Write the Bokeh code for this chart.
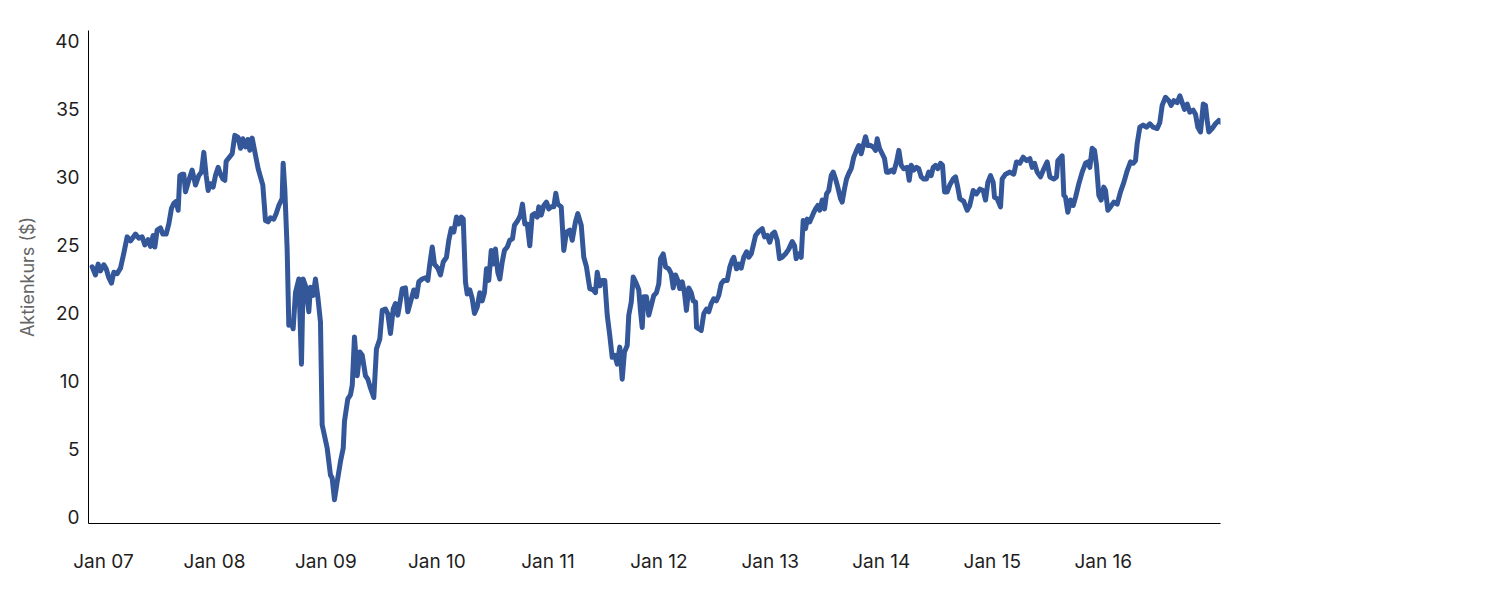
import numpy as np
from datetime import datetime, timedelta
from bokeh.plotting import figure
from bokeh.models import Range1d, FixedTicker, DatetimeTickFormatter, ColumnDataSource
from bokeh.embed import file_html
from bokeh.resources import INLINE

# time in years since 1 Jan 2007
jahre_seit_2007 = [
    -0.102, -0.072, -0.048, -0.027, 0.003, 0.024, 0.048, 0.072, 0.093, 0.123,
    0.153, 0.183, 0.213, 0.243, 0.288, 0.318, 0.348, 0.372, 0.402, 0.423,
    0.447, 0.462, 0.483, 0.513, 0.534, 0.564, 0.588, 0.612, 0.633, 0.654,
    0.672, 0.687, 0.708, 0.723, 0.738, 0.768, 0.798, 0.828, 0.858, 0.882,
    0.903, 0.924, 0.942, 0.963, 0.987, 1.008, 1.032, 1.053, 1.074, 1.092,
    1.104, 1.134, 1.158, 1.182, 1.212, 1.233, 1.254, 1.278, 1.299, 1.317,
    1.338, 1.368, 1.392, 1.413, 1.434, 1.458, 1.482, 1.503, 1.533, 1.554,
    1.578, 1.608, 1.617, 1.632, 1.653, 1.668, 1.689, 1.707, 1.728, 1.758,
    1.782, 1.797, 1.818, 1.848, 1.863, 1.887, 1.908, 1.929, 1.953, 1.968,
    2.013, 2.043, 2.058, 2.079, 2.104, 2.133, 2.158, 2.169, 2.199, 2.223,
    2.239, 2.259, 2.284, 2.307, 2.329, 2.358, 2.379, 2.403, 2.433, 2.457,
    2.487, 2.509, 2.538, 2.559, 2.583, 2.608, 2.628, 2.649, 2.667, 2.689,
    2.718, 2.739, 2.763, 2.793, 2.817, 2.838, 2.869, 2.898, 2.919, 2.937,
    2.959, 2.979, 3.009, 3.033, 3.058, 3.087, 3.108, 3.130, 3.153, 3.177,
    3.198, 3.220, 3.238, 3.258, 3.274, 3.297, 3.319, 3.339, 3.364, 3.387,
    3.409, 3.429, 3.447, 3.468, 3.490, 3.508, 3.528, 3.549, 3.567, 3.589,
    3.609, 3.634, 3.657, 3.681, 3.699, 3.729, 3.753, 3.771, 3.792, 3.814,
    3.837, 3.859, 3.879, 3.904, 3.918, 3.940, 3.963, 3.987, 4.008, 4.030,
    4.053, 4.071, 4.089, 4.120, 4.143, 4.167, 4.197, 4.219, 4.248, 4.269,
    4.300, 4.323, 4.347, 4.377, 4.408, 4.428, 4.444, 4.467, 4.489, 4.512,
    4.534, 4.557, 4.579, 4.602, 4.624, 4.647, 4.669, 4.689, 4.714, 4.728,
    4.750, 4.768, 4.797, 4.818, 4.833, 4.849, 4.863, 4.887, 4.908, 4.930,
    4.953, 4.977, 4.998, 5.014, 5.038, 5.059, 5.088, 5.110, 5.128, 5.149,
    5.169, 5.187, 5.209, 5.229, 5.247, 5.268, 5.290, 5.308, 5.329, 5.338,
    5.358, 5.380, 5.403, 5.428, 5.448, 5.470, 5.493, 5.517, 5.538, 5.560,
    5.583, 5.614, 5.638, 5.659, 5.673, 5.698, 5.718, 5.740, 5.763, 5.788,
    5.808, 5.830, 5.848, 5.869, 5.898, 5.929, 5.950, 5.974, 5.997, 6.019,
    6.040, 6.064, 6.085, 6.109, 6.139, 6.168, 6.199, 6.220, 6.235, 6.258,
    6.280, 6.298, 6.319, 6.334, 6.357, 6.388, 6.409, 6.429, 6.447, 6.469,
    6.490, 6.508, 6.528, 6.550, 6.568, 6.589, 6.609, 6.634, 6.649, 6.670,
    6.688, 6.708, 6.730, 6.753, 6.778, 6.798, 6.820, 6.838, 6.859, 6.879,
    6.904, 6.928, 6.949, 6.964, 6.985, 7.009, 7.030, 7.048, 7.068, 7.093,
    7.113, 7.138, 7.159, 7.180, 7.203, 7.234, 7.252, 7.270, 7.294, 7.318,
    7.338, 7.360, 7.383, 7.408, 7.428, 7.450, 7.468, 7.489, 7.509, 7.534,
    7.552, 7.570, 7.594, 7.617, 7.648, 7.669, 7.689, 7.708, 7.743, 7.774,
    7.797, 7.828, 7.858, 7.888, 7.918, 7.939, 7.960, 7.984, 8.008, 8.020,
    8.044, 8.074, 8.089, 8.119, 8.158, 8.193, 8.218, 8.248, 8.278, 8.308,
    8.338, 8.359, 8.380, 8.404, 8.434, 8.464, 8.494, 8.518, 8.554, 8.578,
    8.590, 8.629, 8.644, 8.659, 8.680, 8.704, 8.728, 8.749, 8.779, 8.809,
    8.839, 8.860, 8.878, 8.899, 8.920, 8.938, 8.959, 8.980, 9.003, 9.019,
    9.040, 9.064, 9.094, 9.124, 9.154, 9.184, 9.214, 9.244, 9.268, 9.289,
    9.304, 9.328, 9.358, 9.388, 9.418, 9.448, 9.484, 9.508, 9.529, 9.559,
    9.589, 9.610, 9.634, 9.664, 9.688, 9.709, 9.730, 9.754, 9.778, 9.808,
    9.829, 9.850, 9.874, 9.899, 9.919, 9.934, 9.949, 9.979, 10.009, 10.039,
    10.059,
]

kurs = [
    23.4, 22.8, 23.6, 23.1, 23.55, 23.25, 22.6, 22.2, 23.0, 22.9,
    23.3, 24.4, 25.6, 25.3, 25.8, 25.5, 25.6, 25.0, 25.4, 24.9,
    25.7, 24.85, 26.1, 26.25, 25.8, 25.8, 26.55, 27.7, 28.05, 28.2,
    27.55, 30.1, 30.2, 30.2, 28.9, 29.75, 30.5, 29.4, 30.1, 30.35,
    31.8, 30.1, 29.0, 29.5, 29.25, 30.1, 30.7, 30.2, 29.85, 29.75,
    31.15, 31.45, 31.7, 33.05, 32.9, 32.1, 32.8, 32.2, 32.75, 31.95,
    32.85, 31.6, 30.6, 30.0, 29.4, 26.8, 26.7, 27.0, 26.9, 27.3,
    27.9, 28.4, 31.0, 29.1, 24.7, 18.2, 18.7, 17.7, 21.5, 22.5,
    12.5, 22.5, 22.0, 20.1, 21.9, 21.3, 22.5, 21.2, 18.7, 6.8,
    5.1, 3.1, 2.9, 1.3, 2.65, 4.1, 5.1, 7.05, 8.7, 9.0,
    9.7, 16.5, 10.8, 14.3, 13.8, 10.8, 10.3, 9.5, 8.8, 14.75,
    16.2, 20.2, 20.3, 19.9, 17.0, 20.3, 20.7, 19.7, 20.7, 21.8,
    21.85, 20.1, 20.8, 21.7, 21.2, 22.3, 22.5, 22.6, 22.4, 23.6,
    24.85, 23.6, 23.3, 22.8, 23.75, 24.1, 25.35, 26.2, 25.95, 27.05,
    26.55, 27.05, 26.9, 22.3, 21.4, 21.7, 21.05, 19.95, 20.45, 21.5,
    20.9, 21.5, 23.25, 22.4, 24.6, 23.6, 24.7, 23.0, 22.5, 23.75,
    24.6, 24.85, 25.35, 25.45, 26.45, 26.8, 27.2, 28.0, 26.55, 26.55,
    24.95, 27.2, 27.3, 27.05, 27.8, 27.2, 27.9, 28.15, 27.65, 27.8,
    27.8, 28.8, 28.0, 27.8, 24.6, 25.95, 26.1, 25.35, 26.7, 27.3,
    26.45, 24.1, 23.4, 21.8, 21.7, 21.5, 23.0, 22.0, 22.4, 22.4,
    19.7, 16.7, 13.5, 13.8, 12.5, 15.0, 10.3, 14.3, 15.25, 19.7,
    20.8, 22.65, 22.15, 21.7, 20.2, 17.9, 21.2, 21.2, 19.7, 20.55,
    21.3, 21.5, 22.15, 24.0, 24.35, 23.4, 23.25, 22.9, 21.85, 22.8,
    22.4, 21.8, 22.3, 21.5, 20.2, 21.85, 21.5, 20.9, 20.8, 17.9,
    17.7, 17.45, 19.9, 20.3, 20.1, 20.7, 21.05, 20.9, 21.3, 22.15,
    22.4, 22.4, 23.4, 23.9, 24.1, 23.25, 23.6, 23.3, 24.1, 24.5,
    24.1, 24.35, 24.95, 25.7, 26.0, 26.2, 25.6, 25.7, 25.2, 25.8,
    25.95, 25.35, 24.0, 24.1, 24.35, 24.7, 25.25, 24.95, 24.0, 24.35,
    24.1, 26.8, 26.2, 26.9, 26.7, 27.3, 27.65, 27.9, 27.55, 28.3,
    27.65, 28.75, 29.0, 30.1, 30.35, 29.85, 29.25, 28.4, 28.15, 29.15,
    29.85, 30.25, 30.6, 31.45, 31.95, 32.3, 31.7, 32.3, 32.95, 32.3,
    32.3, 32.2, 31.95, 32.8, 32.1, 31.7, 31.35, 30.35, 30.35, 30.5,
    30.35, 31.1, 31.95, 30.85, 30.6, 30.7, 29.75, 30.85, 30.5, 30.7,
    30.6, 30.0, 29.85, 29.85, 30.35, 30.1, 30.7, 30.85, 30.6, 31.0,
    30.85, 28.9, 28.9, 29.4, 29.85, 30.0, 29.25, 28.4, 28.2, 27.55,
    27.9, 29.0, 28.75, 29.1, 29.0, 28.3, 29.6, 30.1, 29.6, 28.5,
    28.4, 27.8, 29.85, 30.2, 30.35, 30.2, 31.1, 31.0, 31.45, 31.2,
    31.35, 30.7, 31.0, 30.35, 30.0, 30.6, 31.1, 30.0, 29.85, 30.0,
    31.2, 31.55, 28.65, 28.5, 27.4, 28.3, 27.9, 28.5, 29.5, 30.35,
    31.0, 31.1, 30.7, 32.1, 31.95, 30.85, 28.65, 28.3, 29.25, 29.0,
    27.55, 27.8, 28.15, 28.0, 28.9, 29.6, 30.45, 31.1, 31.0, 31.2,
    32.45, 33.65, 33.8, 33.65, 33.9, 33.65, 33.55, 34.0, 35.25, 35.85,
    35.6, 35.25, 35.6, 35.45, 35.95, 35.45, 34.95, 35.35, 34.75, 34.9,
    34.6, 33.65, 33.3, 35.35, 35.25, 34.15, 33.3, 33.55, 33.9, 34.15,
    34.0,
]

y_tick_labels = [0, 5, 10, 20, 25, 30, 35, 40]
x_tick_years = list(range(2007, 2017))
x_range_years = (-0.135, 10.054)

base = datetime(2007, 1, 1)
dates = [base + timedelta(days=t * 365.25) for t in jahre_seit_2007]
tick_idx = list(range(len(y_tick_labels)))
# the axis spaces its labels evenly, so map prices through the labelled ticks
y_pos = np.interp(kurs, y_tick_labels, tick_idx)

src = ColumnDataSource(dict(x=dates, y=y_pos))

p = figure(
    width=1485, height=596, x_axis_type="datetime",
    output_backend="svg", toolbar_location=None,
    x_range=Range1d(base + timedelta(days=x_range_years[0] * 365.25),
                    base + timedelta(days=x_range_years[1] * 365.25)),
    y_range=Range1d(-0.09, 7.15),
    min_border_left=88, min_border_right=265, min_border_top=30, min_border_bottom=73,
)
p.line("x", "y", source=src, line_color="#34579a", line_width=5,
       line_join="round", line_cap="round")

FONT = "Inter"
epoch = datetime(1970, 1, 1)
p.xaxis.ticker = FixedTicker(
    ticks=[(datetime(y, 1, 1) - epoch).total_seconds() * 1000 for y in x_tick_years])
p.xaxis.formatter = DatetimeTickFormatter(
    years="%b %y", months="%b %y", days="%b %y", hours="%b %y")
p.yaxis.ticker = FixedTicker(ticks=tick_idx)
p.yaxis.major_label_overrides = {i: str(v) for i, v in zip(tick_idx, y_tick_labels)}

for ax in (p.xaxis[0], p.yaxis[0]):
    ax.axis_line_color = "#000000"
    ax.axis_line_width = 1
    ax.major_tick_line_color = None
    ax.minor_tick_line_color = None
    ax.major_tick_out = 0
    ax.major_tick_in = 0
    ax.minor_tick_out = 0
    ax.major_label_text_font = FONT
    ax.major_label_text_font_size = "19px"
    ax.major_label_text_color = "#1e1e1e"

p.xaxis.major_label_standoff = 26
p.yaxis.major_label_standoff = 9
p.yaxis.axis_label = "Aktienkurs ($)"
p.yaxis.axis_label_text_font = FONT
p.yaxis.axis_label_text_font_size = "18px"
p.yaxis.axis_label_text_font_style = "normal"
p.yaxis.axis_label_text_color = "#666666"
p.yaxis.axis_label_standoff = 14

p.xgrid.grid_line_color = None
p.ygrid.grid_line_color = None
p.outline_line_color = None
p.background_fill_color = "white"
p.border_fill_color = "white"

open("out.html", "w").write(file_html(p, INLINE))
